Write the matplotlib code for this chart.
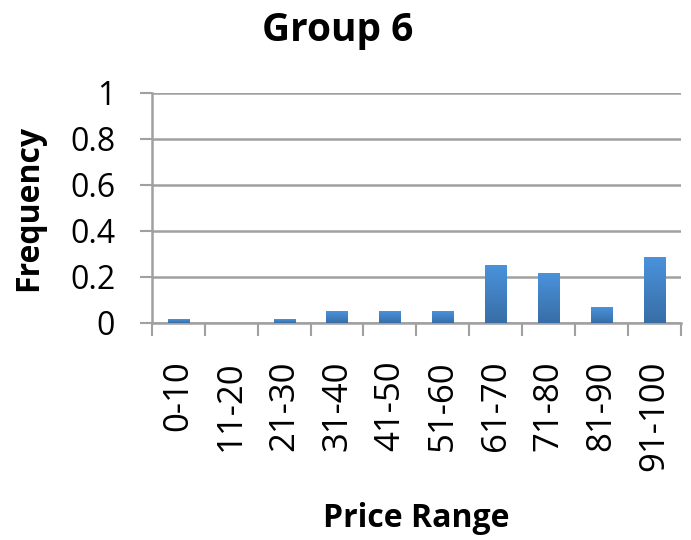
import matplotlib.pyplot as plt
import numpy as np

categories = ['0-10', '11-20', '21-30', '31-40', '41-50', '51-60',
              '61-70', '71-80', '81-90', '91-100']
frequency = [1/60, 0, 1/60, 3/60, 3/60, 3/60, 15/60, 13/60, 4/60, 17/60]
y_ticks = [0, 0.2, 0.4, 0.6, 0.8, 1]
y_labels = ['0', '0.2', '0.4', '0.6', '0.8', '1']

plt.rcParams['font.family'] = ['Open Sans', 'DejaVu Sans']

fig = plt.figure(figsize=(6.91, 5.40), dpi=100)
ax = fig.add_axes([0.22, 0.402, 0.765, 0.426])

x = np.arange(len(categories))
bars = ax.bar(x, frequency, width=0.4, color='#4389d0', zorder=3)

# vertical gradient like the original bars
grad = np.linspace(0, 1, 64).reshape(-1, 1)
cmap = plt.matplotlib.colors.LinearSegmentedColormap.from_list('bar', ['#386ea6', '#4a92dc'])
for b in bars:
    h = b.get_height()
    if h <= 0:
        continue
    x0 = b.get_x()
    ax.imshow(grad, cmap=cmap, aspect='auto', origin='lower',
              extent=(x0, x0 + b.get_width(), 0, h), zorder=4)

ax.set_xlim(-0.5, len(categories) - 0.5)
ax.set_ylim(0, 1)
ax.set_yticks(y_ticks)
ax.set_yticklabels(y_labels, fontsize=23)
ax.set_xticks(x)
ax.set_xticklabels(categories, rotation=90, fontsize=25)
ax.set_xticks(np.arange(len(categories) + 1) - 0.5, minor=True)
ax.tick_params(axis='x', which='major', length=0, pad=27)
ax.tick_params(axis='x', which='minor', length=9, width=1.5, color='#a0a0a0')
ax.tick_params(axis='y', length=8.5, width=1.5, color='#a0a0a0', pad=18)
ax.grid(axis='y', color='#a0a0a0', linewidth=1.8, zorder=0)
for side in ['top', 'right']:
    ax.spines[side].set_visible(False)
for side in ['left', 'bottom']:
    ax.spines[side].set_color('#a0a0a0')
    ax.spines[side].set_linewidth(1.8)

fig.text(0.489, 0.944, 'Group 6', ha='center', va='center', fontsize=28, fontweight='bold')
fig.text(0.042, 0.615, 'Frequency', ha='center', va='center', rotation=90, fontsize=23, fontweight='bold')
fig.text(0.602, 0.04, 'Price Range', ha='center', va='center', fontsize=23, fontweight='bold')

fig.savefig('out.png', dpi=100)
